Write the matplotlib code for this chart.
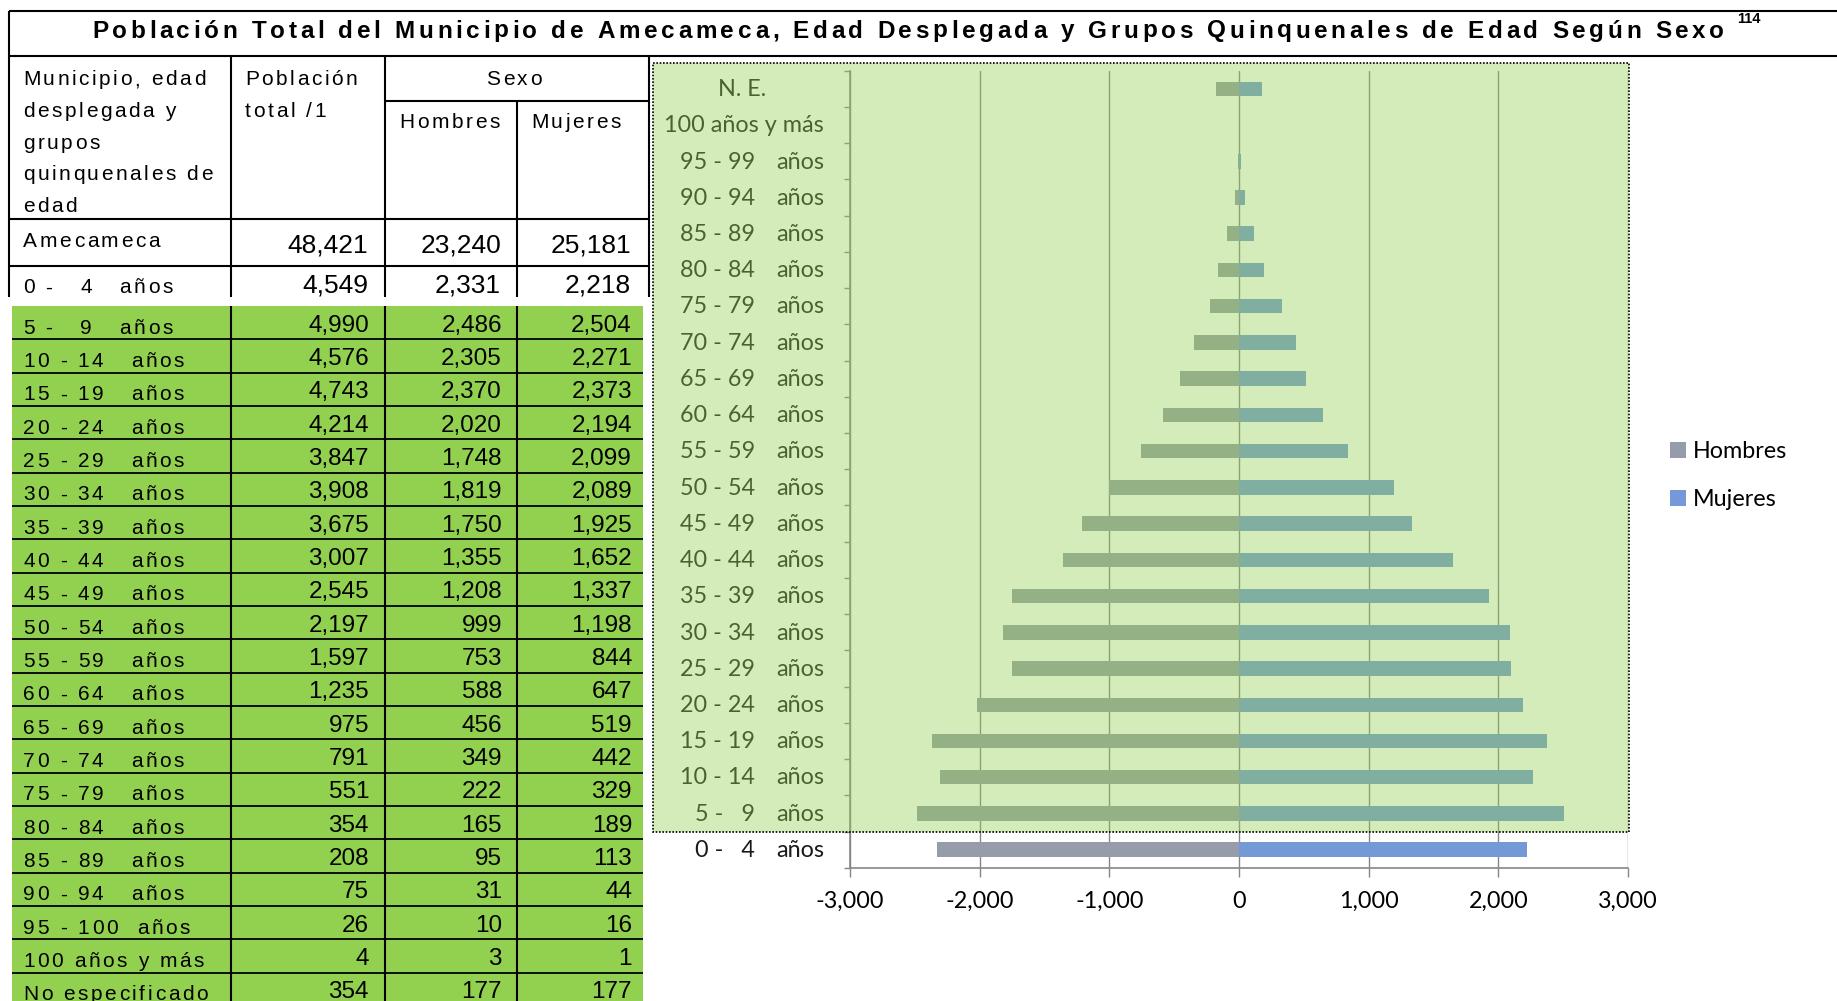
import matplotlib
matplotlib.use("Agg")
import numpy as np
import matplotlib.pyplot as plt
from matplotlib.font_manager import FontProperties
from matplotlib.textpath import TextToPath
from matplotlib.patches import Rectangle

# ---------------- datos ----------------
titulo = "Población Total del Municipio de Amecameca, Edad Desplegada y Grupos Quinquenales de Edad Según Sexo"
pagina = "114"
municipio = "Amecameca"
total_mun = [48421, 23240, 25181]

grupos_tabla = ["0 -   4   años", "5 -   9   años", "10 - 14   años", "15 - 19   años",
                "20 - 24   años", "25 - 29   años", "30 - 34   años", "35 - 39   años",
                "40 - 44   años", "45 - 49   años", "50 - 54   años", "55 - 59   años",
                "60 - 64   años", "65 - 69   años", "70 - 74   años", "75 - 79   años",
                "80 - 84   años", "85 - 89   años", "90 - 94   años", "95 - 100  años",
                "100 años y más", "No especificado"]
grupos_grafica = ["0 -   4   años", "5 -   9   años", "10 - 14   años", "15 - 19   años",
                  "20 - 24   años", "25 - 29   años", "30 - 34   años", "35 - 39   años",
                  "40 - 44   años", "45 - 49   años", "50 - 54   años", "55 - 59   años",
                  "60 - 64   años", "65 - 69   años", "70 - 74   años", "75 - 79   años",
                  "80 - 84   años", "85 - 89   años", "90 - 94   años", "95 - 99   años",
                  "100 años y más", "N. E."]
poblacion = [4549, 4990, 4576, 4743, 4214, 3847, 3908, 3675, 3007, 2545, 2197,
             1597, 1235, 975, 791, 551, 354, 208, 75, 26, 4, 354]
hombres = [2331, 2486, 2305, 2370, 2020, 1748, 1819, 1750, 1355, 1208, 999,
           753, 588, 456, 349, 222, 165, 95, 31, 10, 3, 177]
mujeres = [2218, 2504, 2271, 2373, 2194, 2099, 2089, 1925, 1652, 1337, 1198,
           844, 647, 519, 442, 329, 189, 113, 44, 16, 1, 177]
xticks = [-3000, -2000, -1000, 0, 1000, 2000, 3000]

# ---------------- utilidades de texto ----------------
W, H = 1837, 1001
PX = 100 / 72
t2p = TextToPath()


def ancho(s, fp):
    return t2p.get_text_width_height_descent(s, fp, ismath=False)[0] * PX


def texto_espaciado(ax, x, y, s, fp, track=0.0, width=None, ha="left", color="black"):
    # texto con espaciado entre letras; si se da width, el espaciado se ajusta a ese ancho
    base = ancho("HH", fp)
    adv = [ancho("H" + c + "H", fp) - base for c in s]
    natural = sum(adv[:-1]) + ancho(s[-1], fp)
    if width is not None:
        track = (width - natural) / (len(s) - 1)
    total = natural + track * (len(s) - 1)
    if ha == "center":
        x -= total / 2
    elif ha == "right":
        x -= total
    for c, a in zip(s, adv):
        if c != " ":
            ax.text(x, y, c, fontproperties=fp, ha="left", va="baseline", color=color)
        x += a + track


arial = ["Liberation Sans", "DejaVu Sans"]
calibri = ["Lato", "DejaVu Sans"]
fp_titulo = FontProperties(family=arial, weight="bold", size=17.5)
fp_pag = FontProperties(family=arial, weight="bold", size=10.5)
fp_head = FontProperties(family=arial, size=15)
fp_num_g = FontProperties(family=arial, size=19)
fp_num = FontProperties(family=arial, size=17.5)
fp_eje = FontProperties(family=calibri, size=16.8)
fp_leg = FontProperties(family=calibri, size=16.8)

verde = "#92D050"
gris = "#868686"
texto_graf = "#1a1a1a"

fig = plt.figure(figsize=(W / 100, H / 100), dpi=100)

# ---------------- grafica ----------------
x0, x1, ytop, ybot = 850, 1628, 70.7, 867.8
ax = fig.add_axes([x0 / W, 1 - ybot / H, (x1 - x0) / W, (ybot - ytop) / H])
y = np.arange(len(hombres))
bh = ax.barh(y, [-v for v in hombres], height=0.4, color="#969CA9", zorder=3)
bm = ax.barh(y, mujeres, height=0.4, color="#7598D6", zorder=3)
ax.set_xlim(-3000, 3000)
ax.set_ylim(-0.5, len(hombres) - 0.5)
ax.set_axisbelow(True)
ax.grid(axis="x", color=gris, lw=1)
for s in ["top", "right"]:
    ax.spines[s].set_visible(False)
for s in ["left", "bottom"]:
    ax.spines[s].set_color(gris)
    ax.spines[s].set_linewidth(1.2)
ax.set_xticks(xticks, labels=[f"{v:,}" for v in xticks], fontproperties=fp_eje)
ax.tick_params(axis="x", length=6.5, width=1, color=gris, pad=10, labelcolor="black")
ax.set_yticks([])
ax.set_yticks(np.arange(-0.5, len(hombres), 1), minor=True)
ax.tick_params(axis="y", which="minor", length=4.3, width=1, color=gris)

# etiquetas de categoria: rango alineado a la derecha y "años" en su propia columna
ytr = ax.get_yaxis_transform()
fx = lambda px: (px - x0) / (x1 - x0)
for i, lab in enumerate(grupos_grafica):
    yb = i - 0.2
    if lab == "N. E.":
        ax.text(fx(742), yb, lab, transform=ytr, ha="center", va="baseline",
                fontproperties=fp_eje, color=texto_graf)
    elif lab.endswith(" años"):
        rango = lab[:-len("años")].strip()
        ax.text(fx(755), yb, rango, transform=ytr, ha="right", va="baseline",
                fontproperties=fp_eje, color=texto_graf)
        ax.text(fx(824), yb, "años", transform=ytr, ha="right", va="baseline",
                fontproperties=fp_eje, color=texto_graf)
    else:
        ax.text(fx(824), yb, lab, transform=ytr, ha="right", va="baseline",
                fontproperties=fp_eje, color=texto_graf)

ax.legend([bh, bm], ["Hombres", "Mujeres"], loc="center left",
          bbox_to_anchor=(1670 / W, 1 - 475.5 / H), bbox_transform=fig.transFigure,
          frameon=False, prop=fp_leg, handlelength=0.69, handleheight=0.69,
          handletextpad=0.3, labelspacing=1.15, borderpad=0, borderaxespad=0)

# ---------------- pagina (tabla y recuadro) ----------------
pg = fig.add_axes([0, 0, 1, 1], zorder=10)
pg.set_xlim(0, W)
pg.set_ylim(H, 0)
pg.axis("off")


def linea(xs, ys, lw=1.5):
    pg.plot(xs, ys, color="black", lw=lw, solid_capstyle="butt")


# titulo
linea([9, W], [11, 11])
linea([9, W], [56, 56])
linea([9, 9], [11, 297])
texto_espaciado(pg, 92, 37.5, titulo, fp_titulo, width=1632)
pg.text(1737, 23, pagina, fontproperties=fp_pag, ha="left", va="baseline")

# encabezado de tabla
linea([649, 649], [56, 297])
linea([231, 231], [56, 297])
linea([385, 385], [56, 297])
linea([517, 517], [101, 297])
linea([385, 649], [101, 101])
linea([9, 649], [219, 219])
linea([9, 649], [265.5, 265.5])

tr = 2.6
enc = ["Municipio, edad", "desplegada y", "grupos", "quinquenales de", "edad"]
for k, t in enumerate(enc):
    texto_espaciado(pg, 23, 85 + k * 31.8, t, fp_head, track=tr)
texto_espaciado(pg, 245, 85, "Población", fp_head, track=tr)
texto_espaciado(pg, 245, 116.7, "total /1", fp_head, track=tr)
texto_espaciado(pg, 514, 85, "Sexo", fp_head, track=tr, ha="center")
texto_espaciado(pg, 449.5, 128, "Hombres", fp_head, track=tr, ha="center")
texto_espaciado(pg, 576, 128, "Mujeres", fp_head, track=tr, ha="center")

cols = [368, 501, 631]
texto_espaciado(pg, 23, 246.7, municipio, fp_head, track=tr)
for cx, v in zip(cols, total_mun):
    pg.text(cx, 252, f"{v:,}", fontproperties=fp_num_g, ha="right", va="baseline")

texto_espaciado(pg, 23, 293.3, grupos_tabla[0], fp_head, track=tr)
for cx, v in zip(cols, [poblacion[0], hombres[0], mujeres[0]]):
    pg.text(cx, 292.7, f"{v:,}", fontproperties=fp_num_g, ha="right", va="baseline")

# filas verdes
top, rh = 306, 100 / 3
pg.add_patch(Rectangle((12, top), 643 - 12, H - top, facecolor=verde, edgecolor="none"))
for cx in [231, 385, 517]:
    linea([cx, cx], [top, H])
for k in range(1, len(grupos_tabla)):
    yt = top + (k - 1) * rh
    if k > 1:
        linea([12, 643], [yt, yt], lw=1.3)
    texto_espaciado(pg, 23, yt + 27.8, grupos_tabla[k], fp_head, track=tr)
    for cx, v in zip(cols, [poblacion[k], hombres[k], mujeres[k]]):
        pg.text(cx + 1, yt + 25.7, f"{v:,}", fontproperties=fp_num, ha="right", va="baseline")

# recuadro verde semitransparente sobre la grafica
pg.add_patch(Rectangle((653, 63), 1629 - 653, 832 - 63, facecolor=verde, alpha=0.4,
                       edgecolor="none"))
pg.add_patch(Rectangle((653, 63), 1629 - 653, 832 - 63, facecolor="none",
                       edgecolor="black", lw=1.2, linestyle=(0, (1, 1))))

fig.savefig("out.png", dpi=100)
